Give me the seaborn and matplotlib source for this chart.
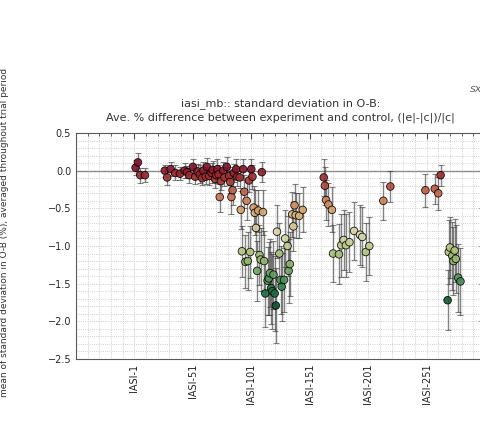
import numpy as np
import pandas as pd
import matplotlib
matplotlib.use("Agg")
import matplotlib.pyplot as plt
from matplotlib.ticker import MultipleLocator
from matplotlib.colors import ListedColormap
import seaborn as sns

# channel position (0-based), mean % difference, and its spread
channel = [1, 3, 5, 9,
           26, 28, 31, 35, 39, 43, 45, 47, 50, 52, 54, 56, 58, 59, 61, 62,
           64, 66, 67, 69, 70, 71, 72, 73, 74, 76, 77, 79, 81, 82, 83, 84,
           85, 87, 88, 90, 91, 92, 93, 94, 95, 96, 97, 98, 99, 100, 101, 102,
           103, 104, 105, 106, 107, 108, 109, 110, 111, 112, 114, 115, 116, 117,
           118, 119, 120, 121, 122, 124, 125, 126, 128, 129, 131, 132, 133, 135,
           136, 137, 138, 141, 144,
           162, 163, 164, 166, 169, 170, 175, 177, 179, 181, 184, 188, 193, 195,
           198, 201,
           213, 219, 249, 257, 260, 262,
           268, 269, 270, 272, 273, 274, 275, 277, 279]
mean_diff = [0.04, 0.11, -0.06, -0.06,
             0.00, -0.09, 0.02, -0.03, -0.04, 0.00, -0.02, -0.06, 0.05, -0.08, -0.01, -0.05, -0.10, 0.00, -0.08, 0.05,
             -0.07, -0.03, 0.01, -0.11, -0.06, 0.02, -0.05, -0.35, -0.14, 0.00, -0.09, 0.05, -0.07, -0.15, -0.35, -0.26,
             -0.03, 0.02, -0.08, -0.09, -0.52, -1.07, 0.02, -0.28, -1.21, -0.40, -1.20, -0.13, -1.08, 0.02, -0.08, -0.49,
             -0.56, -0.76, -1.33, -0.53, -1.12, -1.18, -0.02, -0.55, -1.20, -1.63, -1.46, -1.43, -1.36, -1.56,
             -1.60, -1.38, -1.63, -1.79, -0.81, -1.10, -1.45, -1.54, -1.45, -0.90, -1.00, -1.33, -1.24, -0.58,
             -0.74, -0.46, -0.59, -0.60, -0.52,
             -0.09, -0.20, -0.39, -0.45, -0.52, -1.10, -1.11, -0.99, -0.92, -0.99, -0.95, -0.80, -0.85, -0.88,
             -1.08, -1.00,
             -0.40, -0.21, -0.26, -0.24, -0.30, -0.06,
             -1.72, -1.08, -1.02, -1.13, -1.20, -1.06, -1.17, -1.42, -1.47]
spread = [0.10, 0.12, 0.10, 0.09,
          0.08, 0.10, 0.09, 0.10, 0.09, 0.10, 0.08, 0.10, 0.11, 0.10, 0.10, 0.12, 0.09, 0.11, 0.10, 0.12,
          0.12, 0.13, 0.12, 0.12, 0.10, 0.13, 0.13, 0.20, 0.12, 0.12, 0.11, 0.13, 0.12, 0.14, 0.22, 0.20,
          0.12, 0.13, 0.12, 0.14, 0.25, 0.34, 0.14, 0.22, 0.35, 0.25, 0.38, 0.15, 0.35, 0.14, 0.16, 0.28,
          0.30, 0.30, 0.40, 0.28, 0.40, 0.42, 0.13, 0.30, 0.40, 0.45, 0.45, 0.48, 0.45, 0.48,
          0.50, 0.45, 0.50, 0.50, 0.35, 0.40, 0.45, 0.45, 0.42, 0.38, 0.40, 0.42, 0.42, 0.30,
          0.32, 0.28, 0.30, 0.30, 0.30,
          0.24, 0.25, 0.26, 0.28, 0.30, 0.38, 0.40, 0.42, 0.40, 0.42, 0.40, 0.38, 0.40, 0.40,
          0.38, 0.38,
          0.25, 0.20, 0.22, 0.20, 0.22, 0.14,
          0.40, 0.42, 0.40, 0.45, 0.45, 0.42, 0.45, 0.45, 0.45]

tick_pos = [0, 50, 100, 150, 200, 250, 300]
tick_labels = ["IASI-1", "IASI-51", "IASI-101", "IASI-151", "IASI-201", "IASI-251", "IASI-301"]

df = pd.DataFrame({"channel": channel, "mean_diff": mean_diff, "spread": spread})

sns.set_style("white")
plt.rcParams["font.family"] = ["DejaVu Sans"]

# muted, slightly darkened red -> yellow -> green map
base = np.array(sns.color_palette("RdYlGn_r", 256, desat=0.8))
muted = ListedColormap(base * 0.88)

fig = plt.figure(figsize=(4.80, 4.33), dpi=100)
ax = fig.add_axes([76 / 480, 1 - 359 / 433, (485 - 76) / 480, (359 - 133) / 433])

ax.grid(which="both", linestyle=":", color="0.75", linewidth=0.6)
ax.axhline(0, color="0.55", lw=1.0, zorder=1)

ax.errorbar(df["channel"], df["mean_diff"], yerr=df["spread"], fmt="none",
            ecolor="0.2", alpha=0.6, elinewidth=1.0, capsize=2.5, capthick=0.8, zorder=2)

sns.scatterplot(data=df, x="channel", y="mean_diff", hue="mean_diff",
                palette=muted, hue_norm=(-1.75, 0.05), s=30,
                edgecolor="black", linewidth=0.6, alpha=0.9, legend=False, ax=ax, zorder=3)

ax.set_xlim(-50, 300)
ax.set_ylim(-2.5, 0.5)
ax.set_xticks(tick_pos)
ax.set_xticklabels(tick_labels, rotation=90, fontsize=7)
ax.xaxis.set_minor_locator(MultipleLocator(10))
ax.yaxis.set_major_locator(MultipleLocator(0.5))
ax.yaxis.set_minor_locator(MultipleLocator(0.1))
ax.tick_params(axis="y", labelsize=7)
ax.tick_params(which="both", direction="in", top=True, right=True, color="0.3")
ax.tick_params(which="major", length=4)
ax.tick_params(which="minor", length=2)
for sp in ax.spines.values():
    sp.set_color("0.35")

ax.set_xlabel("")
ax.set_ylabel("mean of standard deviation in O-B (%), averaged throughout trial period",
              fontsize=6.5, color="0.2")
ax.yaxis.set_label_coords(-0.165, 0.56)

ax.set_title("iasi_mb:: standard deviation in O-B:\n"
             "Ave. % difference between experiment and control, (|e|-|c|)/|c|",
             fontsize=8, color="0.2", pad=9, linespacing=1.4)

fig.text(470 / 480, 1 - 92 / 433, "sx", fontsize=8, style="italic", color="0.4")

fig.savefig("out.png", dpi=100)
